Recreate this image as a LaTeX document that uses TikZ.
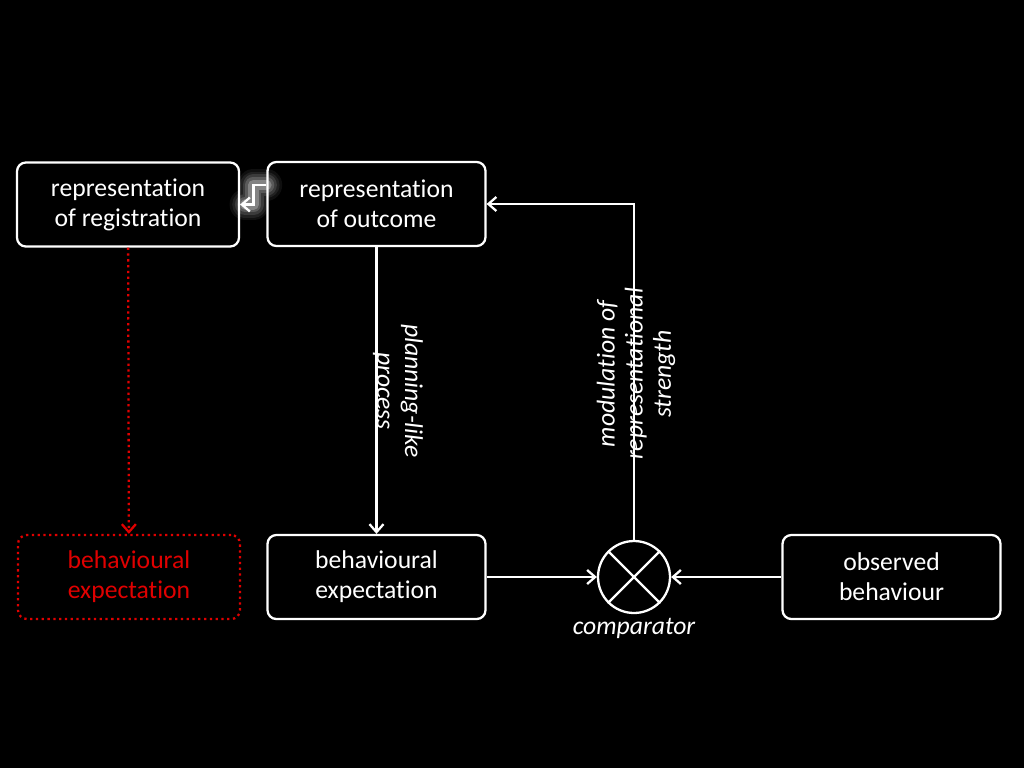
\documentclass[tikz,border=0pt]{standalone}
\usepackage{fontspec}
\setmainfont{Carlito}[Ligatures=NoCommon]
\usetikzlibrary{positioning,arrows.meta}
\definecolor{AlarmRed}{HTML}{E00000}

\begin{document}
\begin{tikzpicture}[x=0.02cm,y=-0.02cm,
  box/.style={draw=white,line width=1.3pt,rounded corners=5pt,minimum width=4.36cm,minimum height=1.68cm,align=center,text=white,font=\fontsize{14.6}{17}\selectfont},
  arr/.style={-{Straight Barb[length=1.6mm,width=2.8mm]},white,line width=1.3pt},
  lab/.style={align=center,text=white,font=\fontsize{14.6}{16}\selectfont\itshape}]
  \fill[black] (0,0) rectangle (1024,768);
  % boxes
  \node[box,minimum width=4.44cm] (repReg) at (128,204.5) {representation\\of registration};
  \node[box] (repOut) at (376.5,204) {representation\\of outcome};
  \node[box,draw=AlarmRed,dotted,text=AlarmRed,minimum width=4.44cm] (redExp) at (129,577) {behavioural\\expectation};
  \node[box] (behExp) at (376.5,577) {behavioural\\expectation};
  \node[box] (obsBeh) at (891.5,577) {observed\\behaviour};
  \node[circle,draw=white,line width=1.3pt,minimum size=1.44cm,inner sep=0pt] (comp) at (634,577) {};
  \draw[white,line width=1.3pt] (comp.north west) -- (comp.south east) (comp.north east) -- (comp.south west);
  \node[lab] (compLab) at (634,628) {comparator};
  % connectors
  \draw[arr] (repOut) -- (behExp);
  \draw[arr] (behExp) -- (comp);
  \draw[arr] (obsBeh) -- (comp);
  \draw[arr] (comp.north) |- (repOut.east);
  \draw[-{Straight Barb[length=1.6mm,width=2.8mm]},AlarmRed,dotted,line width=1.3pt] (repReg) -- (redExp);
  % glowing link
  \foreach \w/\o in {18pt/0.06,15pt/0.08,12pt/0.12,9pt/0.16,6pt/0.25}
    \draw[white,opacity=\o,line width=\w,line cap=round,line join=round] ([yshift=0.38cm]repOut.west) -- ++(-13,0) |- ([xshift=3pt]repReg.east);
  \draw[arr] ([yshift=0.38cm]repOut.west) -- ++(-13,0) |- (repReg.east);
  % labels
  \node[lab,rotate=-90] (planLab) at (398,391) {planning-like\\process};
  \node[lab,rotate=90] (modLab) at (636,374) {modulation of\\representational\\strength};
\end{tikzpicture}
\end{document}
